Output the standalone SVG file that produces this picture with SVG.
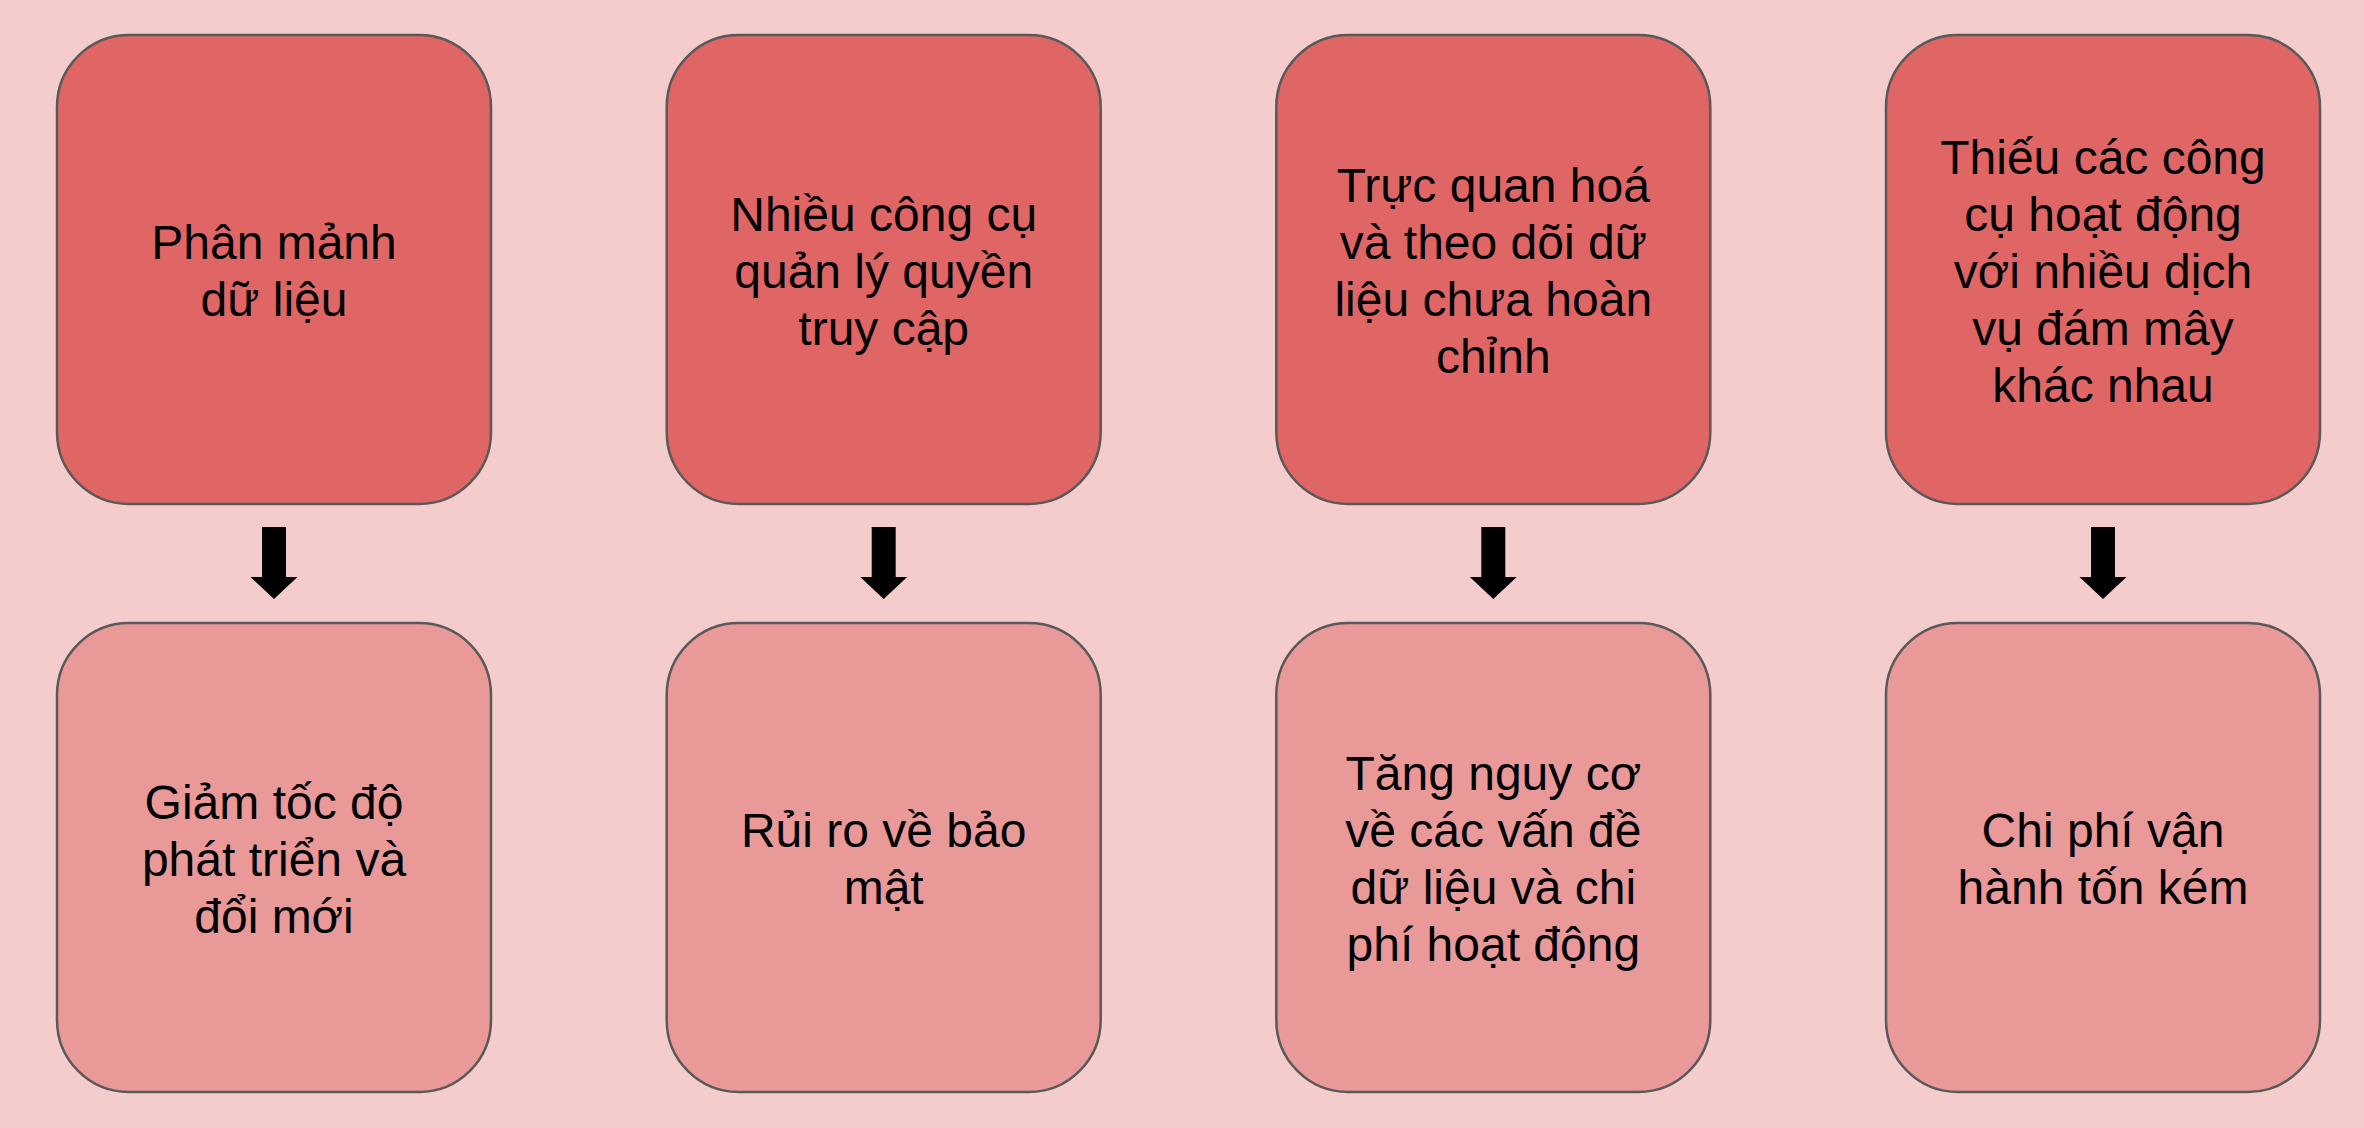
<svg xmlns="http://www.w3.org/2000/svg" width="2364" height="1128" viewBox="0 0 2364 1128">
<style>
.top{fill:#E06666;stroke:#595959;stroke-width:2.5}
.bot{fill:#EA9999;stroke:#595959;stroke-width:2.5}
text{font-family:"Liberation Sans",Arial,sans-serif;font-size:48px;fill:#000;text-anchor:middle}
.arr{fill:#000}
</style>
<defs>
<path id="arrow" d="M-12,527 H12 V577 H23.5 L0,599 L-23.5,577 H-12 Z"/>
</defs>
<rect x="0" y="0" width="2364" height="1128" fill="#F4CCCC"/>
<g id="connectors">
<use href="#arrow" class="arr" x="274"/>
<use href="#arrow" class="arr" x="883.7"/>
<use href="#arrow" class="arr" x="1493.3"/>
<use href="#arrow" class="arr" x="2103"/>
</g>
<g id="n1">
<rect class="top" x="57" y="35" width="434" height="469" rx="72" ry="72"/>
<text x="274"><tspan x="274" y="259">Phân mảnh</tspan><tspan x="274" y="316">dữ liệu</tspan></text>
</g>
<g id="n2">
<rect class="top" x="666.7" y="35" width="434" height="469" rx="72" ry="72"/>
<text x="883.7"><tspan x="883.7" y="230.5">Nhiều công cụ</tspan><tspan x="883.7" y="287.5">quản lý quyền</tspan><tspan x="883.7" y="344.5">truy cập</tspan></text>
</g>
<g id="n3">
<rect class="top" x="1276.3" y="35" width="434" height="469" rx="72" ry="72"/>
<text x="1493.3"><tspan x="1493.3" y="202">Trực quan hoá</tspan><tspan x="1493.3" y="259">và theo dõi dữ</tspan><tspan x="1493.3" y="316">liệu chưa hoàn</tspan><tspan x="1493.3" y="373">chỉnh</tspan></text>
</g>
<g id="n4">
<rect class="top" x="1886" y="35" width="434" height="469" rx="72" ry="72"/>
<text x="2103"><tspan x="2103" y="173.5">Thiếu các công</tspan><tspan x="2103" y="230.5">cụ hoạt động</tspan><tspan x="2103" y="287.5">với nhiều dịch</tspan><tspan x="2103" y="344.5">vụ đám mây</tspan><tspan x="2103" y="401.5">khác nhau</tspan></text>
</g>
<g id="n5">
<rect class="bot" x="57" y="623" width="434" height="469" rx="72" ry="72"/>
<text x="274"><tspan x="274" y="818.5">Giảm tốc độ</tspan><tspan x="274" y="875.5">phát triển và</tspan><tspan x="274" y="932.5">đổi mới</tspan></text>
</g>
<g id="n6">
<rect class="bot" x="666.7" y="623" width="434" height="469" rx="72" ry="72"/>
<text x="883.7"><tspan x="883.7" y="847">Rủi ro về bảo</tspan><tspan x="883.7" y="904">mật</tspan></text>
</g>
<g id="n7">
<rect class="bot" x="1276.3" y="623" width="434" height="469" rx="72" ry="72"/>
<text x="1493.3"><tspan x="1493.3" y="790">Tăng nguy cơ</tspan><tspan x="1493.3" y="847">về các vấn đề</tspan><tspan x="1493.3" y="904">dữ liệu và chi</tspan><tspan x="1493.3" y="961">phí hoạt động</tspan></text>
</g>
<g id="n8">
<rect class="bot" x="1886" y="623" width="434" height="469" rx="72" ry="72"/>
<text x="2103"><tspan x="2103" y="847">Chi phí vận</tspan><tspan x="2103" y="904">hành tốn kém</tspan></text>
</g>
</svg>
